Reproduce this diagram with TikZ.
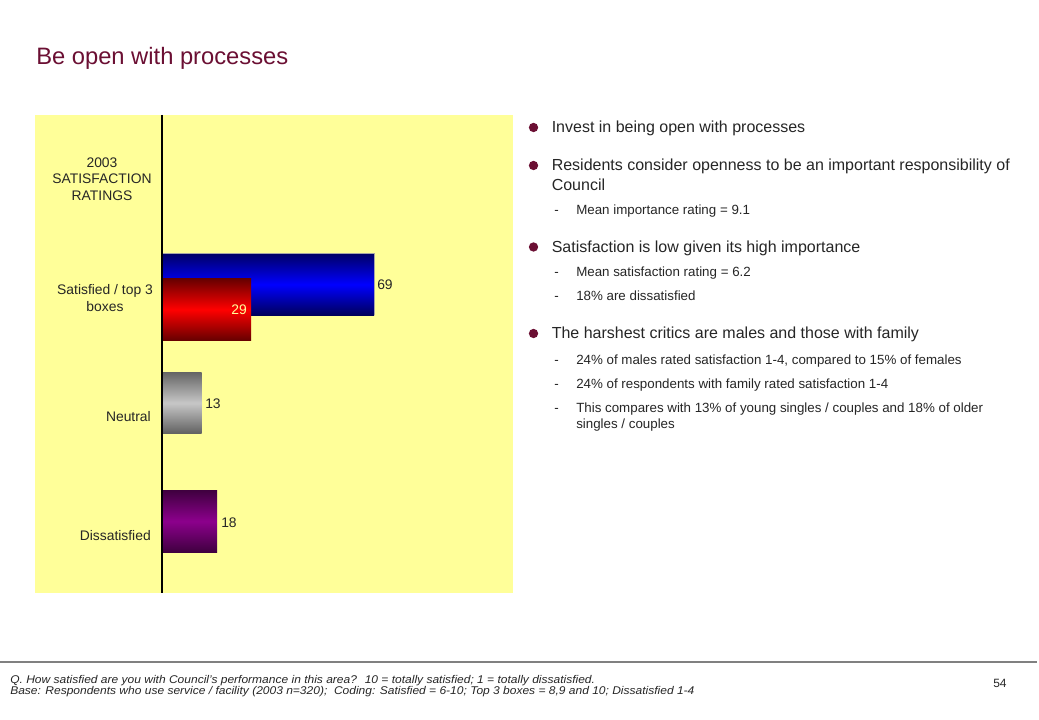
\documentclass[tikz,border=0pt]{standalone}
\usepackage{fontspec}
\setmainfont{Liberation Sans}
\definecolor{maroon}{HTML}{6B0F33}
\definecolor{panel}{HTML}{FFFF99}
\definecolor{txt}{HTML}{262626}
\begin{document}
\begin{tikzpicture}[x=0.75pt,y=-0.75pt,
  lbl/.style={inner sep=0pt,text=txt,font=\fontsize{10.4pt}{12pt}\selectfont},
  mainb/.style={inner sep=0pt,anchor=base west,text=txt,font=\fontsize{12pt}{14pt}\selectfont},
  subb/.style={inner sep=0pt,anchor=base west,text=txt,font=\fontsize{10pt}{12pt}\selectfont},
  dot/.style={circle,fill=maroon,inner sep=0pt,minimum size=7pt},
  dashm/.style={inner sep=0pt,anchor=base west,text=txt,font=\fontsize{10pt}{12pt}\selectfont},
  foot/.style={inner sep=0pt,anchor=base west,text=txt,font=\fontsize{8.4pt}{9pt}\itshape\selectfont}]
\useasboundingbox (0,0) rectangle (1039,720);
\fill[white] (0,0) rectangle (1039,720);
% title
\node[inner sep=0pt,anchor=base west,text=maroon,font=\fontsize{17.8pt}{20pt}\selectfont] (title) at (36,65) {Be open with processes};
% panel
\fill[panel] (35,115) rectangle (513,593);
% bars
\shade[top color=blue!40!black,bottom color=blue!35!black,middle color=blue] (162,253.5) rectangle (374,315.5);
\draw[gray!70,line width=0.6pt] (162,253.5) -- (374,253.5) -- (374,315.5);
\shade[top color=red!40!black,bottom color=red!40!black,middle color=red] (162,278.5) rectangle (251,340.5);
\shade[top color=black!60,bottom color=black!62,middle color=black!22] (162,372.5) rectangle (201.5,433.5);
\shade[top color=black!75!magenta,bottom color=black!75!magenta,middle color=black!45!magenta] (162,490.5) rectangle (217,552);
% axis
\draw[black,line width=0.8pt] (162,115) -- (162,593);
% left labels
\node[lbl,anchor=base] (h1) at (102,167.5) {2003};
\node[lbl,anchor=base] (h2) at (102,184) {SATISFACTION};
\node[lbl,anchor=base] (h3) at (102,200.5) {RATINGS};
\node[lbl,anchor=base] (s1) at (105,294.5) {Satisfied / top 3};
\node[lbl,anchor=base] (s2) at (105,311) {boxes};
\node[lbl,anchor=base east] (n1) at (151,421) {Neutral};
\node[lbl,anchor=base east] (d1) at (151,540) {Dissatisfied};
% values
\node[lbl,anchor=base west] (v69) at (377,290) {69};
\node[lbl,anchor=base east,text=panel] (v29) at (247,315) {29};
\node[lbl,anchor=base west] (v13) at (205,408.5) {13};
\node[lbl,anchor=base west] (v18) at (221,527.5) {18};
% right bullets
\node[dot] (b1) at (533.5,127.5) {};
\node[mainb] (t1) at (551.5,133) {Invest in being open with processes};
\node[dot] (b2) at (533.5,165.5) {};
\node[mainb] (t2) at (551.5,171) {Residents consider openness to be an important responsibility of};
\node[mainb] (t2b) at (551.5,190.5) {Council};
\node[dashm] (m1) at (554,215) {-};
\node[subb] (u1) at (576,215) {Mean importance rating = 9.1};
\node[dot] (b3) at (533.5,247) {};
\node[mainb] (t3) at (551.5,252.5) {Satisfaction is low given its high importance};
\node[dashm] (m2) at (554,277) {-};
\node[subb] (u2) at (576,277) {Mean satisfaction rating = 6.2};
\node[dashm] (m3) at (554,300.5) {-};
\node[subb] (u3) at (576,300.5) {18\% are dissatisfied};
\node[dot] (b4) at (533.5,333.5) {};
\node[mainb] (t4) at (551.5,339) {The harshest critics are males and those with family};
\node[dashm] (m4) at (554,364) {-};
\node[subb] (u4) at (576,364) {24\% of males rated satisfaction 1-4, compared to 15\% of females};
\node[dashm] (m5) at (554,388) {-};
\node[subb] (u5) at (576,388) {24\% of respondents with family rated satisfaction 1-4};
\node[dashm] (m6) at (554,412) {-};
\node[subb] (u6) at (576,412) {This compares with 13\% of young singles / couples and 18\% of older};
\node[subb] (u6b) at (576,428) {singles / couples};
% footer
\draw[gray,line width=0.8pt] (0,662) -- (1037,662);
\node[foot] (f1) at (10,683) {\scalebox{1.072}[1]{Q. How satisfied are you with Council's performance in this area?~ 10 = totally satisfied; 1 = totally dissatisfied.}};
\node[foot] (f2) at (10,694) {\scalebox{1.072}[1]{Base: Respondents who use service / facility (2003 n=320);~ Coding: Satisfied = 6-10; Top 3 boxes = 8,9 and 10; Dissatisfied 1-4}};
\node[inner sep=0pt,anchor=base west,text=txt,font=\fontsize{9pt}{10pt}\selectfont] (pg) at (993,687) {54};
\end{tikzpicture}
\end{document}
